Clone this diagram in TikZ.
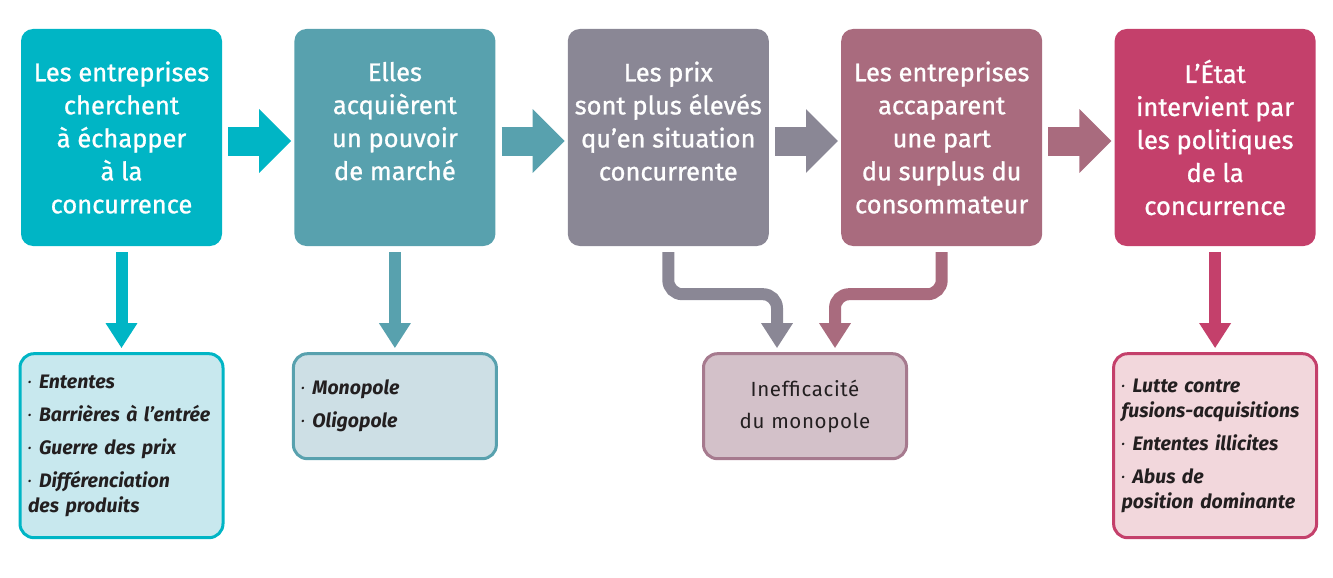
\documentclass[tikz,border=0pt]{standalone}
\usepackage{fontspec}
\setmainfont{Fira Sans}
\usetikzlibrary{arrows.meta,positioning,calc}

\definecolor{cyanA}{RGB}{0,181,197}
\definecolor{tealB}{RGB}{88,161,174}
\definecolor{greyC}{RGB}{138,135,149}
\definecolor{mauveD}{RGB}{169,107,126}
\definecolor{roseE}{RGB}{196,64,107}
\definecolor{cyanL}{RGB}{200,232,238}
\definecolor{tealL}{RGB}{205,223,229}
\definecolor{mauveL}{RGB}{211,193,201}
\definecolor{mauveB}{RGB}{166,122,142}
\definecolor{roseL}{RGB}{242,215,220}
\definecolor{textdark}{RGB}{35,31,32}

\newcommand{\itm}{\raisebox{3pt}{\fontsize{9}{9}\selectfont\textbullet}\hspace{8pt}}

\begin{document}
\begin{tikzpicture}[
    x=1pt, y=-1pt,
    topbox/.style={rectangle, rounded corners=12pt, minimum width=201pt, minimum height=217pt, align=center, text=white, font=\fontsize{25.5}{33}\selectfont\addfontfeature{FakeBold=1}, inner sep=0pt},
    subbox/.style={rectangle, rounded corners=14pt, line width=3pt, minimum width=203pt, text width=187pt, inner xsep=8pt, align=left, text=textdark, font=\fontsize{19.5}{25}\selectfont\bfseries\itshape},
    flow/.style={line width=29pt, -{Triangle[length=32pt,width=62pt]}},
    drop/.style={line width=12pt, rounded corners=14pt, -{Triangle[length=25pt,width=30pt]}}
]
\useasboundingbox (0,0) rectangle (1333,578);

% Top row
\node[topbox, fill=cyanA] (b1) at (121.5,137.5) {Les entreprises\\cherchent\\à échapper\\à la\\concurrence};
\node[topbox, fill=tealB, right=72pt of b1] (b2) {Elles\\acquièrent\\un pouvoir\\de marché\\\mbox{}};
\node[topbox, fill=greyC, right=72pt of b2] (b3) {Les prix\\sont plus élevés\\qu’en situation\\concurrente\\\mbox{}};
\node[topbox, fill=mauveD, right=72pt of b3] (b4) {Les entreprises\\accaparent\\une part\\du surplus du\\consommateur};
\node[topbox, fill=roseE, right=72pt of b4] (b5) {L’État\\intervient par\\les politiques\\de la\\concurrence};

% Bottom row
\node[subbox, draw=cyanA, fill=cyanL, minimum height=184pt, below=106pt of b1] (s1) {\itm Ententes\\[8pt]\itm Barrières à l’entrée\\[8pt]\itm Guerre des prix\\[8pt]\itm Différenciation\\des produits};
\node[subbox, draw=tealB, fill=tealL, minimum height=105pt, below=106pt of b2] (s2) {\itm Monopole\\[8pt]\itm Oligopole};
\coordinate (mid) at ($(b3.south east)!0.5!(b4.south west)$);
\node[subbox, draw=mauveB, fill=mauveL, minimum height=105pt, align=center, font=\fontsize{20.5}{32}\selectfont\addfontfeature{LetterSpace=3}, below=106pt of mid] (ineff) {Inefficacité\\du monopole};
\node[subbox, draw=roseE, fill=roseL, minimum height=184pt, below=106pt of b5] (s5) {\itm Lutte contre\\fusions-acquisitions\\[8pt]\itm Ententes illicites\\[8pt]\itm Abus de\\position dominante};

% Horizontal arrows
\draw[flow, cyanA] ([xshift=6pt,yshift=-3.5pt]b1.east) -- ([xshift=-3pt,yshift=-3.5pt]b2.west);
\draw[flow, tealB] ([xshift=6pt,yshift=-3.5pt]b2.east) -- ([xshift=-3pt,yshift=-3.5pt]b3.west);
\draw[flow, greyC] ([xshift=6pt,yshift=-3.5pt]b3.east) -- ([xshift=-3pt,yshift=-3.5pt]b4.west);
\draw[flow, mauveD] ([xshift=6pt,yshift=-3.5pt]b4.east) -- ([xshift=-3pt,yshift=-3.5pt]b5.west);

% Down arrows
\draw[drop, cyanA] ([yshift=-6pt]b1.south) -- ([yshift=4pt]s1.north);
\draw[drop, tealB] ([yshift=-6pt]b2.south) -- ([yshift=4pt]s2.north);
\draw[drop, roseE] ([yshift=-6pt]b5.south) -- ([yshift=4pt]s5.north);

% Bent arrows into the middle box
\coordinate (bendL) at ($(ineff.north)+(-28,-58)$);
\coordinate (bendR) at ($(ineff.north)+(30,-58)$);
\draw[drop, greyC] ([yshift=-6pt]b3.south) |- (bendL) -- ([xshift=-28pt,yshift=4pt]ineff.north);
\draw[drop, mauveD] ([yshift=-6pt]b4.south) |- (bendR) -- ([xshift=30pt,yshift=4pt]ineff.north);

\end{tikzpicture}
\end{document}
